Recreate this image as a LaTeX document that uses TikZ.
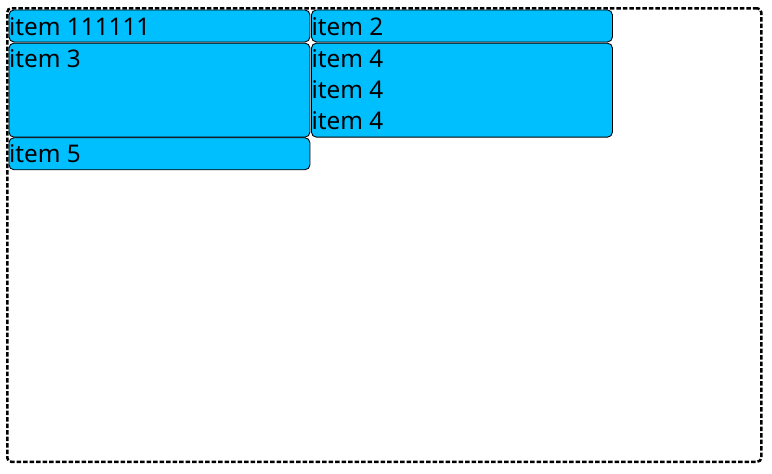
\documentclass[tikz,border=0pt]{standalone}
\usepackage{fontspec}
\setmainfont{Noto Sans}
\definecolor{itemblue}{RGB}{0,191,255}
\tikzset{
  frame/.style={draw=black, line width=2.5pt, dash pattern=on 4.5pt off 2pt, rounded corners=4pt, inner sep=0pt, anchor=north west},
  itembox/.style={draw=black, line width=0.9pt, fill=itemblue, rounded corners=5pt, inner sep=0pt, anchor=north west, minimum width=301pt},
  lbl/.style={anchor=base west, inner sep=0pt, font=\fontsize{24.3}{31}\selectfont}
}
\begin{document}
\begin{tikzpicture}[x=1pt,y=-1pt]
\useasboundingbox (0,0) rectangle (772,474);
\node[frame, minimum width=754pt, minimum height=453.5pt] (outer) at (6,7) {};
\node[itembox, minimum height=32pt] (b1) at (8.5,9.5) {};
\node[itembox, minimum height=32pt] (b2) at (311,9.5) {};
\node[itembox, minimum height=94pt] (b3) at (8.5,42.7) {};
\node[itembox, minimum height=94pt] (b4) at (311,42.7) {};
\node[itembox, minimum height=32pt] (b5) at (8.5,137.3) {};
\node[lbl] (t1) at ([shift={(0.5pt,-25.5pt)}]b1.north west) {item 111111};
\node[lbl] (t2) at ([shift={(0.5pt,-25.5pt)}]b2.north west) {item 2};
\node[lbl] (t3) at ([shift={(0.5pt,-25pt)}]b3.north west) {item 3};
\node[lbl] (t4) at ([shift={(0.5pt,-25pt)}]b4.north west) {\parbox[t]{250pt}{\raggedright item 4\\item 4\\item 4}};
\node[lbl] (t5) at ([shift={(0.5pt,-25pt)}]b5.north west) {item 5};
\end{tikzpicture}
\end{document}
